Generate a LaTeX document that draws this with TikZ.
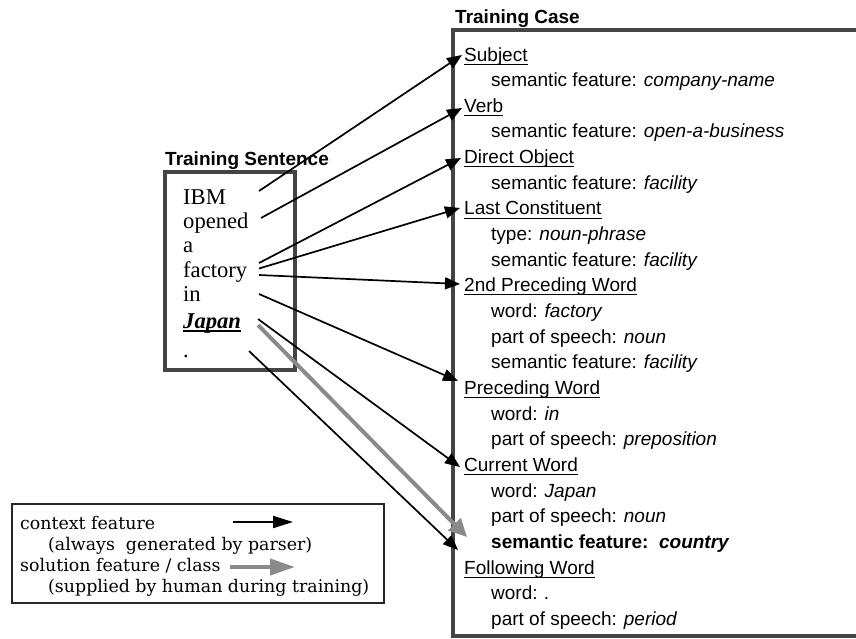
\documentclass[tikz,border=0pt]{standalone}
\usepackage{fontspec}
\setmainfont{Liberation Sans}
\newfontfamily\sentfont{Liberation Serif}
\newfontfamily\legfont{DejaVu Serif}
\usetikzlibrary{arrows.meta}
\definecolor{framegray}{HTML}{444444}
\definecolor{solgray}{HTML}{8A8A8A}
% underline drawn a little below the baseline, as wide as the text
\newcommand\ulined[2][1pt]{\setbox0=\hbox{#2}\rlap{\rule[-3.6pt]{\wd0}{#1}}\box0}
\begin{document}
\begin{tikzpicture}[x=1pt,y=-1pt,
  frame/.style={draw=framegray, line width=4pt},
  title/.style={anchor=base west, inner sep=0pt, font=\fontsize{19}{19}\selectfont\bfseries},
  head/.style={anchor=base west, inner sep=0pt, font=\fontsize{19}{19}\selectfont},
  feat/.style={anchor=base west, inner sep=0pt, font=\fontsize{19}{19}\selectfont},
  word/.style={anchor=base west, inner sep=0pt, font=\fontsize{22.6}{22.6}\sentfont},
  legtext/.style={anchor=base west, inner sep=0pt, font=\fontsize{17.4}{17.4}\legfont},
  ctx/.style={-{Triangle[length=15pt,width=12pt]}, line width=1.7pt},
  sol/.style={-{Triangle[length=18pt,width=17pt]}, line width=4pt, draw=solgray, fill=solgray},
  legctx/.style={-{Triangle[length=20pt,width=12pt]}, line width=2pt},
  legsol/.style={-{Triangle[length=25pt,width=16pt]}, line width=4pt, draw=solgray, fill=solgray}
]
\useasboundingbox (0,0) rectangle (856,638);

% ---- training case (feature list) ----
\node[title] (casetitle) at (455,23) {Training Case};
\draw[frame] (453,30) rectangle (872,636);

\node[head] (subject)   at (464,61)     {\ulined{Subject}};
\node[feat] (f1)        at (491,86.65)  {semantic feature: \textit{company-name}};
\node[head] (verb)      at (464,112.3)  {\ulined{Verb}};
\node[feat] (f3)        at (491,137.95) {semantic feature: \textit{open-a-business}};
\node[head] (dobj)      at (464,163.6)  {\ulined{Direct Object}};
\node[feat] (f5)        at (491,189.25) {semantic feature: \textit{facility}};
\node[head] (lastc)     at (464,214.9)  {\ulined{Last Constituent}};
\node[feat] (f7)        at (491,240.55) {type: \textit{noun-phrase}};
\node[feat] (f8)        at (491,266.2)  {semantic feature: \textit{facility}};
\node[head] (prec2)     at (464,291.85) {\ulined{2nd Preceding Word}};
\node[feat] (f10)       at (491,317.5)  {word: \textit{factory}};
\node[feat] (f11)       at (491,343.15) {part of speech: \textit{noun}};
\node[feat] (f12)       at (491,368.8)  {semantic feature: \textit{facility}};
\node[head] (prec)      at (464,394.45) {\ulined{Preceding Word}};
\node[feat] (f14)       at (491,420.1)  {word: \textit{in}};
\node[feat] (f15)       at (491,445.75) {part of speech: \textit{preposition}};
\node[head] (curr)      at (464,471.4)  {\ulined{Current Word}};
\node[feat] (f17)       at (491,497.05) {word: \textit{Japan}};
\node[feat] (f18)       at (491,522.7)  {part of speech: \textit{noun}};
\node[feat] (country)   at (491,548.35) {\bfseries semantic feature:\ \ \textit{country}};
\node[head] (follow)    at (464,574)    {\ulined{Following Word}};
\node[feat] (f21)       at (491,599.65) {word: \textit{.}};
\node[feat] (f22)       at (491,625.3)  {part of speech: \textit{period}};

% ---- training sentence ----
\node[title] (senttitle) at (165,165) {Training Sentence};
\draw[frame] (165,172) rectangle (295,369.5);
\node[word] (w-ibm)     at (183,204)   {IBM};
\node[word] (w-opened)  at (183,228)   {opened};
\node[word] (w-a)       at (183,252.5) {a};
\node[word] (w-factory) at (183,277)   {factory};
\node[word] (w-in)      at (183,301)   {in};
\node[word] (w-japan)   at (183,328)   {\ulined[1.5pt]{\bfseries\itshape Japan}};
\node[word] (w-period)  at (183,357.5) {.};

% arrow start points beside the words
\coordinate (s-ibm)     at (259,191);
\coordinate (s-opened)  at (261,218);
\coordinate (s-fac1)    at (259,263);
\coordinate (s-fac2)    at (259,268.5);
\coordinate (s-fac3)    at (259,275);
\coordinate (s-in)      at (259,294);
\coordinate (s-japan)   at (258,319);
\coordinate (s-japsol)  at (258,325);
\coordinate (s-period)  at (249,351);

% arrow tips at the features
\coordinate (t-subject) at (462,55);
\coordinate (t-verb)    at (462,108);
\coordinate (t-dobj)    at (461,158);
\coordinate (t-lastc)   at (460,208);
\coordinate (t-prec2)   at (460,284);
\coordinate (t-prec)    at (458,381);
\coordinate (t-curr)    at (460,467);
\coordinate (t-country) at (467,537);
\coordinate (t-follow)  at (458,550);

\draw[ctx] (s-ibm)    -- (t-subject);
\draw[ctx] (s-opened) -- (t-verb);
\draw[ctx] (s-fac1)   -- (t-dobj);
\draw[ctx] (s-fac2)   -- (t-lastc);
\draw[ctx] (s-fac3)   -- (t-prec2);
\draw[ctx] (s-in)     -- (t-prec);
\draw[ctx] (s-japan)  -- (t-curr);
\draw[sol] (s-japsol) -- (t-country);
\draw[ctx] (s-period) -- (t-follow);

% ---- legend ----
\draw[line width=1.5pt, draw=black!85] (12,504) rectangle (384,603);
\node[legtext] (l1) at (20,529) {context feature};
\node[legtext] (l2) at (48,550) {(always\ \ generated by parser)};
\node[legtext] (l3) at (20,571) {solution feature / class};
\node[legtext] (l4) at (48,592) {(supplied by human during training)};
\coordinate (lc-a) at (233,522);
\coordinate (lc-b) at (293,522);
\coordinate (ls-a) at (230,567);
\coordinate (ls-b) at (295,567);
\draw[legctx] (lc-a) -- (lc-b);
\draw[legsol] (ls-a) -- (ls-b);
\end{tikzpicture}
\end{document}
